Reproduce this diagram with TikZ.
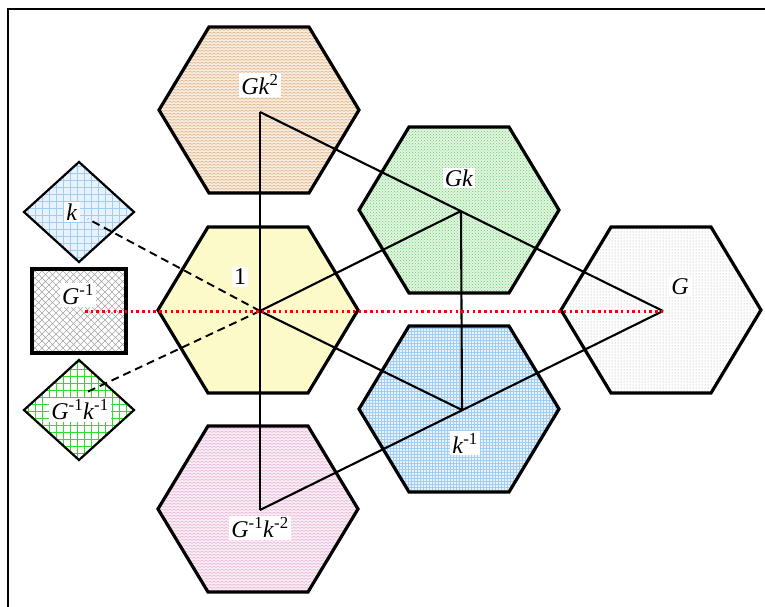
\documentclass[tikz,border=0pt]{standalone}
\usepackage{fontspec}
\setmainfont{Liberation Serif}
\usetikzlibrary{patterns}
\pgfdeclarepatternformonly{zigzag}{\pgfpoint{-0.5pt}{-0.5pt}}{\pgfpoint{4.5pt}{3.5pt}}{\pgfpoint{4pt}{3pt}}{%
  \pgfsetlinewidth{0.5pt}%
  \pgfpathmoveto{\pgfpoint{0pt}{0.5pt}}\pgfpathlineto{\pgfpoint{2pt}{2pt}}\pgfpathlineto{\pgfpoint{4pt}{0.5pt}}%
  \pgfusepath{stroke}}
\pgfdeclarepatternformonly{biggrid}{\pgfpoint{-1pt}{-1pt}}{\pgfpoint{8pt}{8pt}}{\pgfpoint{7pt}{7pt}}{%
  \pgfsetlinewidth{0.8pt}%
  \pgfpathmoveto{\pgfpoint{0pt}{0pt}}\pgfpathlineto{\pgfpoint{0pt}{7.1pt}}%
  \pgfpathmoveto{\pgfpoint{0pt}{0pt}}\pgfpathlineto{\pgfpoint{7.1pt}{0pt}}%
  \pgfusepath{stroke}}
\pgfdeclarepatternformonly{diaghatch}{\pgfpoint{-1pt}{-1pt}}{\pgfpoint{8pt}{8pt}}{\pgfpoint{7pt}{7pt}}{%
  \pgfsetlinewidth{0.6pt}%
  \pgfpathmoveto{\pgfpoint{0pt}{0pt}}\pgfpathlineto{\pgfpoint{7pt}{7pt}}%
  \pgfpathmoveto{\pgfpoint{0pt}{7pt}}\pgfpathlineto{\pgfpoint{7pt}{0pt}}%
  \pgfusepath{stroke}}
\definecolor{tanbg}{RGB}{250,238,225}
\definecolor{tanln}{RGB}{215,170,125}
\definecolor{grnbg}{RGB}{225,245,225}
\definecolor{grnln}{RGB}{100,205,100}
\definecolor{yelbg}{RGB}{252,250,200}
\definecolor{gryln}{RGB}{165,165,165}
\definecolor{blubg}{RGB}{232,242,252}
\definecolor{bluln}{RGB}{160,205,240}
\definecolor{pnkbg}{RGB}{250,238,246}
\definecolor{pnkln}{RGB}{230,175,210}
\definecolor{brgrn}{RGB}{40,225,40}
\newcommand\hexshape{(-100,0) -- (-50,-83) -- (50,-83) -- (100,0) -- (50,83) -- (-50,83) -- cycle}
\newcommand\diashape{(-55,0) -- (0,-50) -- (55,0) -- (0,50) -- cycle}
\begin{document}
\begin{tikzpicture}[x=1pt,y=-1pt,
  hexa/.style={draw=black,line width=3.2pt,line join=miter},
  dia/.style={draw=black,line width=2.2pt,line join=miter},
  conn/.style={draw=black,line width=2.1pt},
  dashconn/.style={draw=black,line width=1.9pt,dash pattern=on 8pt off 5pt},
  reddot/.style={draw=red,line width=3pt,dash pattern=on 2.5pt off 3.2pt},
  lbl/.style={fill=white,inner sep=2pt,font=\fontsize{24}{26}\selectfont}]
\useasboundingbox (0,0) rectangle (765,607);
\draw[line width=2.6pt] (8,607) -- (8,9) -- (765,9);
% hexagons
\draw[hexa,shift={(259,110)},preaction={fill=tanbg},pattern=zigzag,pattern color=tanln] \hexshape;
\draw[hexa,shift={(459,210)},preaction={fill=grnbg},pattern=crosshatch dots,pattern color=grnln] \hexshape;
\draw[hexa,shift={(258,310)},fill=yelbg] \hexshape;
\draw[hexa,shift={(661,310)},preaction={fill=white},pattern=dots,pattern color=gryln] \hexshape;
\draw[hexa,shift={(459,409)},preaction={fill=blubg},pattern=grid,pattern color=bluln] \hexshape;
\draw[hexa,shift={(258,509)},preaction={fill=pnkbg},pattern=zigzag,pattern color=pnkln] \hexshape;
% left shapes
\draw[dia,shift={(79,212)},preaction={fill=blubg},pattern=biggrid,pattern color=bluln] \diashape;
\draw[line width=3.4pt,preaction={fill=white},pattern=diaghatch,pattern color=gryln] (32,269) rectangle (126,353);
\draw[dia,shift={(79,410)},preaction={fill=white},pattern=biggrid,pattern color=brgrn] \diashape;
% points
\coordinate (pGk2) at (260,112);
\coordinate (pGk) at (461,211);
\coordinate (p1) at (260,311);
\coordinate (pG) at (663,311);
\coordinate (pk1) at (462,410);
\coordinate (pGk2i) at (260,510);
\coordinate (pGi) at (85,311);
\coordinate (pk) at (88,219);
\coordinate (pGiki) at (85,393);
% connectors
\draw[conn] (pGk2) -- (pGk2i);
\draw[conn] (pGk2) -- (pG);
\draw[conn] (pGk2i) -- (pG);
\draw[conn] (p1) -- (pGk);
\draw[conn] (p1) -- (pk1);
\draw[conn] (pGk) -- (pk1);
\draw[dashconn] (p1) -- (pk);
\draw[dashconn] (p1) -- (pGiki);
\draw[reddot] (pGi) -- (pG);
% labels
\node[lbl] (lGk2) at (260,85) {\textit{Gk}\textsuperscript{2}};
\node[lbl] (lGk) at (459,178) {\textit{Gk}};
\node[lbl] (l1) at (240,277) {1};
\node[lbl] (lG) at (680,287) {\textit{G}};
\node[lbl] (lk1) at (465,443) {\textit{k}\textsuperscript{-1}};
\node[lbl] (lGk2i) at (260,528) {\textit{G}\textsuperscript{-1}\textit{k}\textsuperscript{-2}};
\node[lbl] (lk) at (72,212) {\textit{k}};
\node[lbl] (lGi) at (78,295) {\textit{G}\textsuperscript{-1}};
\node[lbl] (lGiki) at (80,410) {\textit{G}\textsuperscript{-1}\textit{k}\textsuperscript{-1}};
\end{tikzpicture}
\end{document}
